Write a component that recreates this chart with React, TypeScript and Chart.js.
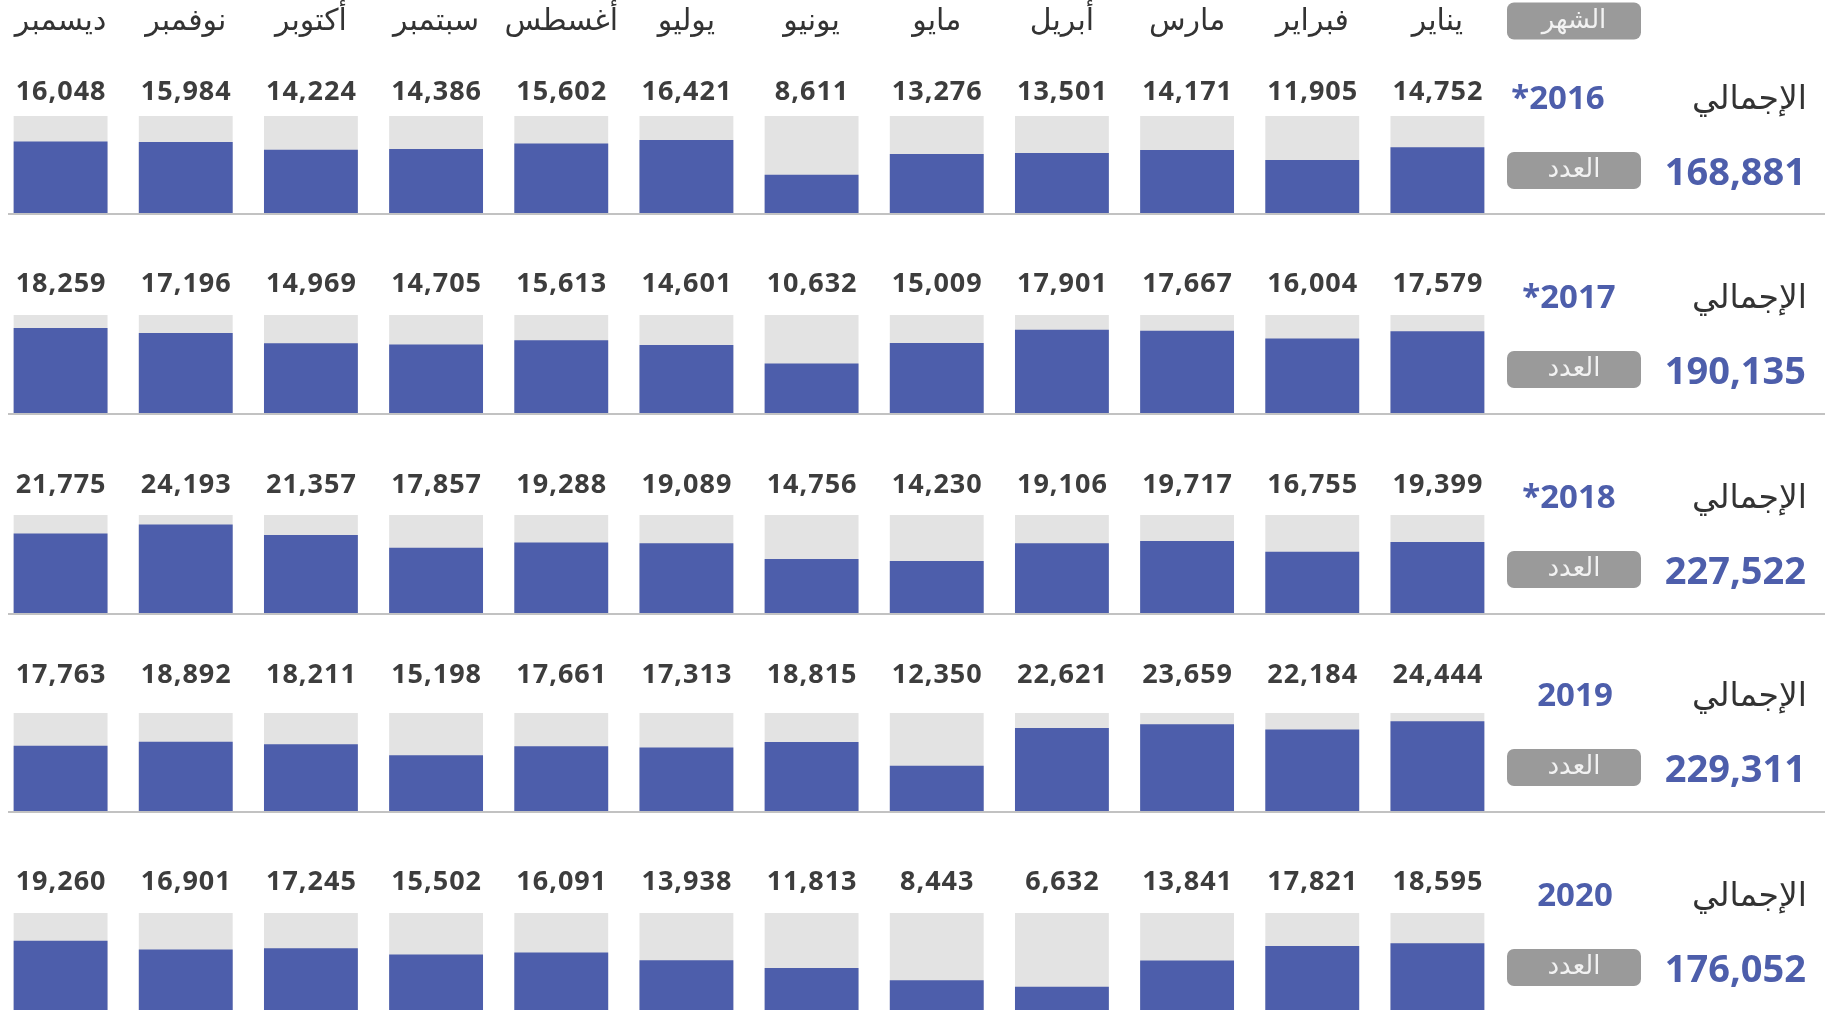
import React, { useEffect, useRef } from "react";
import { Chart, registerables } from "chart.js";

Chart.register(...registerables);

// ---------- data ----------
const MONTHS = ["يناير", "فبراير", "مارس", "أبريل", "مايو", "يونيو", "يوليو", "أغسطس", "سبتمبر", "أكتوبر", "نوفمبر", "ديسمبر"];
const YEARS = ["2016*", "2017*", "2018*", "2019", "2020"];
const TOTALS = [168881, 190135, 227522, 229311, 176052];
const V2016 = [14752, 11905, 14171, 13501, 13276, 8611, 16421, 15602, 14386, 14224, 15984, 16048];
const V2017 = [17579, 16004, 17667, 17901, 15009, 10632, 14601, 15613, 14705, 14969, 17196, 18259];
const V2018 = [19399, 16755, 19717, 19106, 14230, 14756, 19089, 19288, 17857, 21357, 24193, 21775];
const V2019 = [24444, 22184, 23659, 22621, 12350, 18815, 17313, 17661, 15198, 18211, 18892, 17763];
const V2020 = [18595, 17821, 13841, 6632, 8443, 11813, 13938, 16091, 15502, 17245, 16901, 19260];
const SERIES = [V2016, V2017, V2018, V2019, V2020];
const SCALE_MAX = [21800, 21050, 26800, 26700, 26900];
const HEADER_LABEL = "الشهر";
const TOTAL_LABEL = "الإجمالي";
const COUNT_LABEL = "العدد";

// ---------- layout / style ----------
const PAGE_W = 1825;
const PAGE_H = 1010;
const CANVAS_LEFT = -3;
const CANVAS_W = 1828;
const PLOT_LEFT_PAD = 1;
const PLOT_RIGHT_PAD = 325;
const GREY_TOP = [116, 315, 515, 713, 913];
const BASE = [213, 413, 613, 811, 1011];
const LABEL_GAP = [26, 33, 32, 40, 33];
const YEAR_X = [1558, 1569, 1569, 1575, 1575];
const BLUE = "#4d5eab";
const GREY = "#e3e3e3";
const TEXT = "#3d3d3d";
const ARABIC = "'DejaVu Sans', sans-serif";
const LATIN = "'Noto Sans', sans-serif";

function drawBadge(ctx: CanvasRenderingContext2D, x: number, cy: number, text: string) {
  const w = 134, h = 37;
  ctx.save();
  ctx.fillStyle = "#9a9a9a";
  ctx.beginPath();
  (ctx as any).roundRect(x, cy - h / 2, w, h, 7);
  ctx.fill();
  ctx.fillStyle = "#f2f2f2";
  ctx.font = `26px ${ARABIC}`;
  ctx.textAlign = "center";
  ctx.textBaseline = "middle";
  ctx.fillText(text, x + w / 2, cy);
  ctx.restore();
}

function Row({ i }: { i: number }) {
  const ref = useRef<HTMLCanvasElement | null>(null);
  const canvasTop = i === 0 ? 0 : GREY_TOP[i] - 62;
  const height = BASE[i] + 3 - canvasTop;

  useEffect(() => {
    const padTop = GREY_TOP[i] - canvasTop;
    const padBottom = height - (BASE[i] - canvasTop);
    const toX = (px: number) => px - CANVAS_LEFT;
    const toY = (py: number) => py - canvasTop;

    const overlay = {
      id: "overlay" + i,
      afterDraw(chart: any) {
        const ctx: CanvasRenderingContext2D = chart.ctx;
        ctx.save();
        // separator line
        ctx.strokeStyle = "#c2c2c2";
        ctx.lineWidth = 2;
        ctx.beginPath();
        ctx.moveTo(toX(8), toY(BASE[i]) + 1);
        ctx.lineTo(CANVAS_W, toY(BASE[i]) + 1);
        ctx.stroke();

        // value labels
        const meta = chart.getDatasetMeta(0);
        ctx.fillStyle = TEXT;
        ctx.font = `bold 27px ${LATIN}`;
        (ctx as any).letterSpacing = "1px";
        ctx.textAlign = "center";
        ctx.textBaseline = "alphabetic";
        const ly = toY(GREY_TOP[i] - LABEL_GAP[i]) + 27 * 0.357;
        meta.data.forEach((bar: any, j: number) => {
          ctx.fillText(SERIES[i][j].toLocaleString("en-US"), bar.x + 0.5, ly);
        });
        (ctx as any).letterSpacing = "0px";

        // right panel
        ctx.fillStyle = "#333";
        ctx.font = `33px ${ARABIC}`;
        ctx.textAlign = "right";
        ctx.textBaseline = "middle";
        ctx.fillText(TOTAL_LABEL, toX(1807), toY(GREY_TOP[i] - 16));

        ctx.fillStyle = BLUE;
        ctx.font = `bold 33px ${LATIN}`;
        ctx.textAlign = "center";
        ctx.textBaseline = "alphabetic";
        (ctx as any).direction = "rtl";
        ctx.fillText(YEARS[i], toX(YEAR_X[i]), toY(GREY_TOP[i] - 19) + 33 * 0.357);
        (ctx as any).direction = "ltr";

        ctx.font = `bold 38px ${LATIN}`;
        ctx.textAlign = "right";
        ctx.fillText(TOTALS[i].toLocaleString("en-US"), toX(1806), toY(GREY_TOP[i] + 55) + 38 * 0.357);

        drawBadge(ctx, toX(1507), toY(GREY_TOP[i] + 54.5), COUNT_LABEL);
        if (i === 0) drawBadge(ctx, toX(1507), toY(21), HEADER_LABEL);
        ctx.restore();
      },
    };

    const chart = new Chart(ref.current as HTMLCanvasElement, {
      type: "bar",
      data: {
        labels: MONTHS,
        datasets: [
          {
            data: SERIES[i],
            backgroundColor: BLUE,
            grouped: false,
            order: 0,
            barPercentage: 0.75,
            categoryPercentage: 1,
            borderWidth: 0,
          },
          {
            data: MONTHS.map(() => SCALE_MAX[i]),
            backgroundColor: GREY,
            grouped: false,
            order: 1,
            barPercentage: 0.75,
            categoryPercentage: 1,
            borderWidth: 0,
          },
        ],
      },
      options: {
        responsive: false,
        maintainAspectRatio: false,
        animation: false,
        devicePixelRatio: 1,
        layout: {
          padding: { top: i === 0 ? 0 : padTop, bottom: padBottom, left: PLOT_LEFT_PAD, right: PLOT_RIGHT_PAD },
        },
        plugins: { legend: { display: false }, tooltip: { enabled: false } },
        scales: {
          x: {
            reverse: true,
            position: "top",
            display: i === 0,
            grid: { display: false },
            border: { display: false },
            ticks: {
              color: "#333",
              font: { family: "DejaVu Sans", size: 30 },
              padding: 68,
              maxRotation: 0,
              autoSkip: false,
            },
            afterFit: (s: any) => {
              if (i === 0) s.height = GREY_TOP[0];
            },
          },
          y: { display: false, min: 0, max: SCALE_MAX[i] },
        },
      },
      plugins: [overlay],
    } as any);
    return () => chart.destroy();
  }, []);

  return (
    <canvas
      ref={ref}
      width={CANVAS_W}
      height={height}
      style={{ position: "absolute", left: CANVAS_LEFT, top: canvasTop, width: CANVAS_W, height }}
    />
  );
}

export default function App() {
  return (
    <div
      style={{
        position: "absolute",
        left: 0,
        top: 0,
        width: PAGE_W,
        height: PAGE_H,
        overflow: "hidden",
        background: "#fff",
      }}
    >
      {SERIES.map((_, i) => (
        <Row key={i} i={i} />
      ))}
    </div>
  );
}
